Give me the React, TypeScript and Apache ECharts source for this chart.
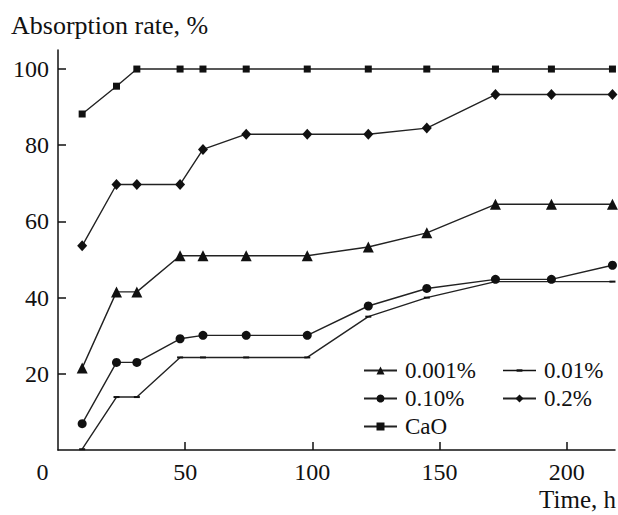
import React, { useEffect, useRef } from "react";
import * as echarts from "echarts";

const times = [9.5, 23, 31, 48, 57, 74, 98, 122, 145, 172, 194, 218];
const s0001 = [21.5, 41.5, 41.5, 51, 51, 51, 51, 53.3, 57, 64.5, 64.5, 64.5];
const s001 = [0.2, 13.9, 13.9, 24.3, 24.3, 24.3, 24.3, 35, 40, 44.2, 44.2, 44.2];
const s010 = [6.9, 23, 23, 29.2, 30.1, 30.1, 30.1, 37.8, 42.4, 44.8, 44.8, 48.5];
const s02 = [53.6, 69.7, 69.7, 69.7, 78.9, 82.9, 82.9, 82.9, 84.5, 93.3, 93.3, 93.3];
const sCaO = [88.2, 95.5, 100, 100, 100, 100, 100, 100, 100, 100, 100, 100];
const seriesNames = ["0.001%", "0.01%", "0.10%", "0.2%", "CaO"];
const xTickLabels = [0, 50, 100, 150, 200];
const yTickLabels = [20, 40, 60, 80, 100];

const FONT = "'Liberation Serif', 'Times New Roman', serif";

export default function App() {
  const ref = useRef<HTMLDivElement>(null);
  useEffect(() => {
    if (!ref.current) return;
    const chart = echarts.init(ref.current, null, { renderer: "svg" });
    const pair = (vals: number[]) => times.map((t, i) => [t, vals[i]]);
    const lineStyle = { color: "#222", width: 1.4 };
    const mk = (name: string, vals: number[], symbol: string, size: any) => ({
      name,
      type: "line",
      data: pair(vals),
      symbol,
      symbolSize: size,
      showAllSymbol: true,
      lineStyle,
      itemStyle: { color: "#111" },
      z: 3,
    });
    const legendText = {
      fontFamily: FONT,
      fontSize: 23,
      color: "#111",
      lineHeight: 23,
      padding: [0, 0, 0, 3],
    };
    chart.setOption({
      animation: false,
      backgroundColor: "#fff",
      textStyle: { fontFamily: FONT },
      grid: { left: 58, right: 3, top: 50, bottom: 65 },
      xAxis: {
        type: "value",
        min: 0,
        max: 219,
        interval: 50,
        axisLine: { lineStyle: { color: "#111", width: 1.5 } },
        axisTick: {
          inside: true,
          length: 8,
          customValues: [50, 100, 150, 200],
          lineStyle: { color: "#111", width: 1.5 },
        },
        splitLine: { show: false },
        axisLabel: {
          customValues: xTickLabels,
          fontFamily: FONT,
          fontSize: 24,
          color: "#111",
          margin: 10,
          formatter: (v: number) => (v === 0 ? "{z|0}" : String(v)),
          rich: { z: { fontFamily: FONT, fontSize: 24, color: "#111", padding: [0, 31, 0, 0] } },
        },
      },
      yAxis: {
        type: "value",
        min: 0,
        max: 105,
        interval: 20,
        axisLine: { show: true, lineStyle: { color: "#111", width: 1.5 } },
        axisTick: {
          show: true,
          inside: true,
          length: 8,
          customValues: yTickLabels,
          lineStyle: { color: "#111", width: 1.5 },
        },
        splitLine: { show: false },
        axisLabel: {
          customValues: yTickLabels,
          fontFamily: FONT,
          fontSize: 24,
          color: "#111",
          margin: 9,
        },
      },
      legend: [
        {
          data: [{ name: "0.001%" }, { name: "0.10%" }, { name: "CaO" }],
          orient: "vertical",
          left: 358,
          top: 354,
          itemWidth: 33,
          itemHeight: 10,
          itemGap: 5,
          textStyle: legendText,
          selectedMode: false,
        },
        {
          data: [
            { name: "0.01%", icon: "path://M0,4.5H34V6H0Z M14,4H20V6.5H14Z" },
            { name: "0.2%" },
          ],
          orient: "vertical",
          left: 497,
          top: 354,
          itemWidth: 33,
          itemHeight: 10,
          itemGap: 5,
          textStyle: legendText,
          selectedMode: false,
        },
      ],
      graphic: [
        {
          type: "text",
          left: 11,
          top: 12,
          style: { text: "Absorption rate, %", fontFamily: FONT, fontSize: 26, fill: "#111" },
        },
        {
          type: "text",
          right: 2,
          top: 487,
          style: { text: "Time, h", fontFamily: FONT, fontSize: 25, fill: "#111" },
        },
      ],
      series: [
        mk(seriesNames[0], s0001, "triangle", 11),
        mk(seriesNames[1], s001, "rect", [6, 2]),
        mk(seriesNames[2], s010, "circle", 9),
        mk(seriesNames[3], s02, "diamond", [10, 11]),
        mk(seriesNames[4], sCaO, "rect", 7),
      ],
    });
    return () => chart.dispose();
  }, []);
  return (
    <div
      ref={ref}
      style={{ position: "absolute", left: 0, top: 0, width: 618, height: 515 }}
    />
  );
}
